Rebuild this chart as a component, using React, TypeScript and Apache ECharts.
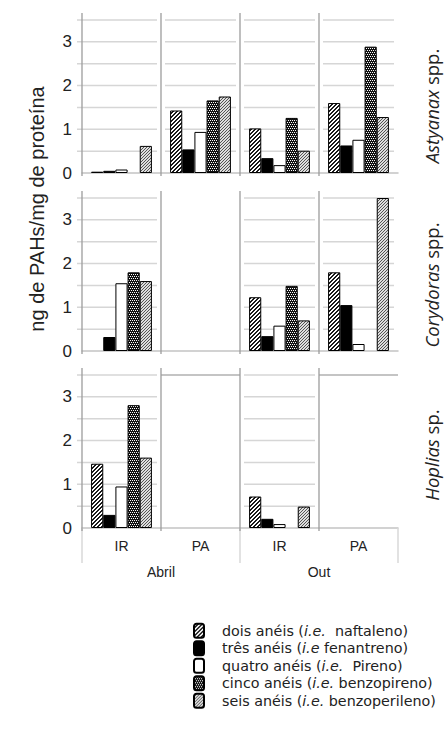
import React, { useEffect, useRef } from "react";
import * as echarts from "echarts";

// ---------- data ----------
const CATEGORIES = ["IR", "PA", "IR", "PA"];
const MONTHS = ["Abril", "Out"];
const RING_KEYS = ["dois", "tres", "quatro", "cinco", "seis"];
const LEGEND_LABELS = [
  "dois anéis ({i|i.e.}  naftaleno)",
  "três anéis ({i|i.e} fenantreno)",
  "quatro anéis ({i|i.e.}  Pireno)",
  "cinco anéis ({i|i.e.} benzopireno)",
  "seis anéis ({i|i.e.} benzoperileno)",
];
const Y_TITLE = "ng de PAHs/mg de proteína";
const SPECIES_ITALIC = ["Astyanax", "Corydoras", "Hoplias"];
const SPECIES_SUFFIX = [" spp.", " spp.", " sp."];

const astyanaxDois = [0.03, 1.43, 1.02, 1.6];
const astyanaxTres = [0.05, 0.54, 0.34, 0.63];
const astyanaxQuatro = [0.08, 0.94, 0.18, 0.76];
const astyanaxCinco = [null, 1.66, 1.26, 2.89];
const astyanaxSeis = [0.62, 1.75, 0.51, 1.28];

const corydorasDois = [null, null, 1.23, 1.8];
const corydorasTres = [0.32, null, 0.34, 1.05];
const corydorasQuatro = [1.55, null, 0.58, 0.16];
const corydorasCinco = [1.8, null, 1.49, null];
const corydorasSeis = [1.6, null, 0.7, 3.5];

const hopliasDois = [1.47, null, 0.72, null];
const hopliasTres = [0.3, null, 0.21, null];
const hopliasQuatro = [0.95, null, 0.09, null];
const hopliasCinco = [2.81, null, null, null];
const hopliasSeis = [1.61, null, 0.49, null];

const PANELS = [
  [astyanaxDois, astyanaxTres, astyanaxQuatro, astyanaxCinco, astyanaxSeis],
  [corydorasDois, corydorasTres, corydorasQuatro, corydorasCinco, corydorasSeis],
  [hopliasDois, hopliasTres, hopliasQuatro, hopliasCinco, hopliasSeis],
];

// 2 = gridlines, 1 = top line only, 0 = none
const GRID_MODE = [
  [2, 2, 2, 2],
  [2, 0, 2, 2],
  [2, 1, 2, 1],
];

// ---------- styling helpers ----------
function makePattern(size: number, bg: string, fg: string, px: number[][]) {
  const c = document.createElement("canvas");
  c.width = size;
  c.height = size;
  const ctx = c.getContext("2d")!;
  ctx.fillStyle = bg;
  ctx.fillRect(0, 0, size, size);
  ctx.fillStyle = fg;
  for (const [x, y] of px) ctx.fillRect(x, y, 1, 1);
  return { image: c, repeat: "repeat" } as any;
}

const GRID_TOPS = [20, 198, 375];
const GRID_H = 153;
const GRID_LEFT = 82;
const GRID_W = 316;
const LEGEND_FONT = "DejaVu Sans";

export default function App() {
  const ref = useRef<HTMLDivElement>(null);
  useEffect(() => {
    if (!ref.current) return;
    const chart = echarts.init(ref.current, null, { renderer: "svg" });

    const fills = [
      makePattern(4, "#ffffff", "#1a1a1a", [
        [0, 3], [1, 2], [2, 1], [3, 0],
        [0, 0], [1, 3], [2, 2], [3, 1],
      ]),
      "#000000",
      "#ffffff",
      makePattern(4, "#111111", "#ffffff", [
        [0, 0], [2, 0], [1, 2], [3, 2],
      ]),
      makePattern(3, "#dedede", "#555555", [
        [0, 2], [1, 1], [2, 0],
      ]),
    ];

    const grids = GRID_TOPS.map((t) => ({
      left: GRID_LEFT,
      top: t,
      width: GRID_W,
      height: GRID_H,
    }));

    const xAxes: any[] = GRID_TOPS.map((_, gi) => ({
      type: "category",
      gridIndex: gi,
      data: CATEGORIES,
      axisLine: { show: true, lineStyle: { color: "#c4c4c4", width: 1.5 } },
      axisTick: { show: false },
      splitLine: { show: false },
      axisLabel: {
        show: gi === 2,
        fontFamily: "Liberation Sans",
        fontSize: 14,
        color: "#222",
        margin: 11,
      },
    }));
    xAxes.push({
      type: "category",
      gridIndex: 2,
      position: "bottom",
      data: MONTHS,
      axisLine: { show: false },
      axisTick: { show: true, length: 35, lineStyle: { color: "#d8d8d8", width: 1.5 } },
      axisLabel: {
        fontFamily: "Liberation Sans",
        fontSize: 14,
        color: "#222",
        margin: 37,
      },
    });

    const yAxes = GRID_TOPS.map((_, gi) => ({
      type: "value",
      gridIndex: gi,
      min: 0,
      max: 3.5,
      interval: 1,
      axisLine: { show: false },
      axisTick: { show: false },
      splitLine: { show: false },
      axisLabel: {
        fontFamily: "Liberation Sans",
        fontSize: 17,
        color: "#222",
        margin: 10,
        formatter: (v: number) => (Number.isInteger(v) ? String(v) : ""),
      },
    }));

    const series: any[] = [];
    PANELS.forEach((panel, gi) => {
      series.push({
        type: "custom",
        xAxisIndex: gi,
        yAxisIndex: gi,
        z: 1,
        clip: false,
        silent: true,
        data: GRID_MODE[gi].map((m, i) => [i, 0, m]),
        encode: { x: 0, y: 1 },
        renderItem: (params: any, api: any) => {
          const i = api.value(0);
          const mode = api.value(2);
          const band = api.size([1, 0])[0];
          const c0 = api.coord([i, 0]);
          const x0 = c0[0] - band / 2;
          const y0 = c0[1];
          const yTop = api.coord([i, 3.5])[1];
          const children: any[] = [];
          if (mode === 2) {
            for (let v = 0.5; v <= 3.5; v += 0.5) {
              const y = api.coord([i, v])[1];
              children.push({
                type: "line",
                shape: { x1: x0 + (i === 0 ? -5 : 4), y1: y, x2: x0 + band - 4, y2: y },
                style: { stroke: "#d6d6d6", lineWidth: 1.5 },
              });
            }
          } else if (mode === 1) {
            children.push({
              type: "line",
              shape: { x1: x0, y1: yTop, x2: x0 + band, y2: yTop },
              style: { stroke: "#b0b0b0", lineWidth: 1.5 },
            });
          }
          children.push({
            type: "line",
            shape: { x1: x0, y1: yTop - 7, x2: x0, y2: y0 + 3 },
            style: { stroke: "#9c9c9c", lineWidth: 1.3 },
          });
          return { type: "group", children };
        },
      });
      panel.forEach((vals, si) => {
        series.push({
          type: "bar",
          name: RING_KEYS[si],
          xAxisIndex: gi,
          yAxisIndex: gi,
          z: 3,
          data: vals,
          barGap: "0%",
          barCategoryGap: "23%",
          itemStyle: { color: fills[si], borderColor: "#000", borderWidth: 1 },
          emphasis: { disabled: true },
        });
      });
    });

    const graphic: any[] = [
      {
        type: "text",
        x: 37,
        y: 209,
        rotation: Math.PI / 2,
        style: {
          text: Y_TITLE,
          fontFamily: "Liberation Sans",
          fontSize: 20,
          fill: "#222",
          align: "center",
          verticalAlign: "middle",
        },
      },
    ];
    const speciesY = [106, 285, 455];
    SPECIES_ITALIC.forEach((sp, i) => {
      graphic.push({
        type: "text",
        x: 431,
        y: speciesY[i],
        rotation: Math.PI / 2,
        style: {
          text: `{it|${sp}}${SPECIES_SUFFIX[i]}`,
          fontFamily: "Open Sans",
          fontSize: 18.5,
          fill: "#222",
          align: "center",
          verticalAlign: "middle",
          rich: {
            it: { fontStyle: "italic", fontFamily: "Open Sans", fontSize: 18.5, fill: "#222" },
          },
        },
      });
    });

    chart.setOption({
      animation: false,
      backgroundColor: "#ffffff",
      grid: grids,
      xAxis: xAxes,
      yAxis: yAxes,
      series,
      graphic,
      legend: {
        data: RING_KEYS,
        orient: "vertical",
        left: 193,
        top: 622,
        padding: 0,
        itemWidth: 10,
        itemHeight: 14,
        itemGap: 0,
        selectedMode: false,
        formatter: (name: string) => LEGEND_LABELS[RING_KEYS.indexOf(name)],
        textStyle: {
          fontFamily: LEGEND_FONT,
          fontSize: 14.3,
          lineHeight: 17.5,
          color: "#222",
          padding: [0, 0, 0, 13],
          rich: {
            i: { fontStyle: "italic", fontFamily: LEGEND_FONT, fontSize: 14.3, lineHeight: 17.5, color: "#222" },
          },
        },
      },
    });
    return () => chart.dispose();
  }, []);
  return (
    <div
      ref={ref}
      style={{ position: "fixed", left: 0, top: 0, width: 446, height: 730 }}
    />
  );
}
